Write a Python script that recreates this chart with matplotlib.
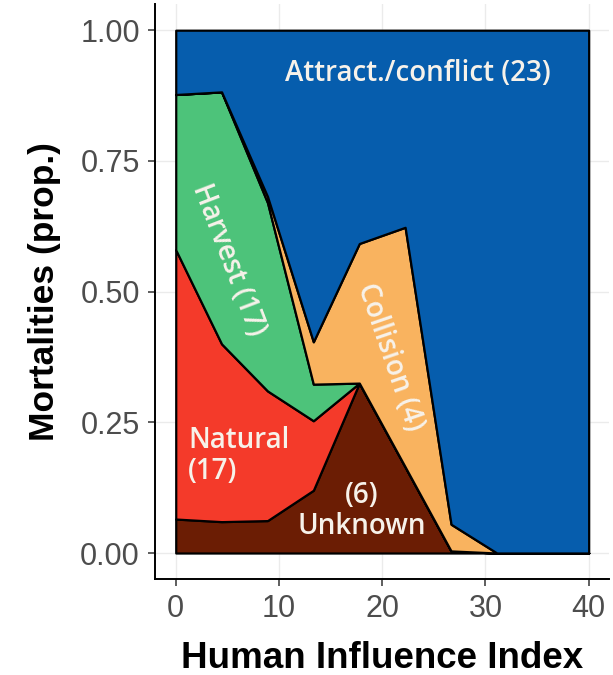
import matplotlib.pyplot as plt
import numpy as np

# human influence index (x) and proportion of mortalities per cause
hii = [0, 4.44, 8.89, 13.33, 17.78, 22.22, 26.67, 31.11, 35.56, 40]
unknown = [0.065, 0.060, 0.062, 0.120, 0.325, 0.165, 0.004, 0, 0, 0]
natural = [0.515, 0.340, 0.248, 0.133, 0, 0, 0, 0, 0, 0]
harvest = [0.297, 0.482, 0.360, 0.070, 0, 0, 0, 0, 0, 0]
collision = [0, 0, 0.012, 0.081, 0.267, 0.458, 0.051, 0, 0, 0]
attract = [0.123, 0.118, 0.318, 0.596, 0.408, 0.377, 0.945, 1, 1, 1]

colores = ['#6B1D04', '#F43A2A', '#4DC37A', '#F9B35F', '#065DAD']

fig = plt.figure(figsize=(6.13, 6.75), dpi=100)
ax = fig.add_axes([0.253, 0.142, 0.741, 0.852])

ax.stackplot(hii, unknown, natural, harvest, collision, attract,
             colors=colores, edgecolor='black', linewidth=1.6, zorder=2)

ax.set_xlim(-2, 42)
ax.set_ylim(-0.05, 1.05)
ax.set_xticks([0, 10, 20, 30, 40])
ax.set_yticks([0, 0.25, 0.5, 0.75, 1.0])
ax.set_yticklabels(['0.00', '0.25', '0.50', '0.75', '1.00'])
ax.grid(True, color='#EBEBEB', linewidth=1, zorder=0)
ax.set_axisbelow(True)

for s in ['top', 'right']:
    ax.spines[s].set_visible(False)
for s in ['left', 'bottom']:
    ax.spines[s].set_linewidth(1.4)
ax.tick_params(axis='both', labelsize=22, labelcolor='#4D4D4D',
               length=5, width=1.1, color='#333333')
ax.tick_params(axis='y', pad=6)
ax.tick_params(axis='x', pad=6)
for lab in ax.get_xticklabels() + ax.get_yticklabels():
    lab.set_family('Liberation Sans')

ax.set_xlabel('Human Influence Index', fontsize=26.5, fontweight='bold',
              family='Liberation Sans', labelpad=12)
ax.set_ylabel('Mortalities (prop.)', fontsize=25.5, fontweight='bold',
              family='Liberation Sans', labelpad=14)

# etiquetas de cada causa
txt = dict(color='#F7F2EA', fontsize=20, family='Open Sans', fontweight='semibold')
ax.text(23.5, 0.918, 'Attract./conflict (23)', ha='center', va='center', **txt)
ax.text(5.1, 0.56, 'Harvest (17)', ha='center', va='center', rotation=-69, **txt)
ax.text(20.8, 0.375, 'Collision (4)', ha='center', va='center', rotation=-71, **txt)
ax.text(1.2, 0.185, 'Natural\n(17)', ha='left', va='center', linespacing=1.1, **txt)
ax.text(18.0, 0.08, '(6)\nUnknown', ha='center', va='center', linespacing=1.1, **txt)

fig.savefig('out.png', dpi=100)
